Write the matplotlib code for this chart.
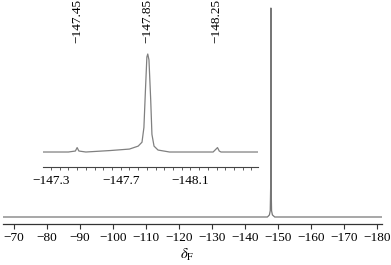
import matplotlib
matplotlib.use("Agg")
import matplotlib.pyplot as plt
from matplotlib.ticker import MultipleLocator, FixedLocator
import matplotlib.transforms as mtransforms

plt.rcParams['font.family'] = ['Liberation Serif', 'DejaVu Serif']
plt.rcParams['mathtext.fontset'] = 'stix'

# Full spectrum (chemical shift, relative intensity)
main_shift = [-66.5, -100.0, -130.0, -146.8, -147.4, -147.65, -147.78, -147.85,
              -147.92, -148.05, -148.3, -149.0, -160.0, -181.6]
main_int = [0.0, 0.0, 0.0, 0.0, 0.01, 0.03, 0.15, 1.0,
            0.15, 0.03, 0.01, 0.0, 0.0, 0.0]
main_ticks = [-70, -80, -90, -100, -110, -120, -130, -140, -150, -160, -170, -180]

# Expanded region
inset_shift = [-147.254, -147.40, -147.44, -147.45, -147.46, -147.50, -147.64,
               -147.75, -147.80, -147.822, -147.833, -147.842, -147.850, -147.855,
               -147.862, -147.872, -147.879, -147.891, -147.914, -147.98, -148.10,
               -148.23, -148.255, -148.265, -148.275, -148.30, -148.489]
inset_int = [0.0, 0.0, 0.01, 0.045, 0.01, 0.0, 0.015,
             0.03, 0.06, 0.10, 0.25, 0.64, 0.97, 1.0,
             0.94, 0.53, 0.18, 0.06, 0.02, 0.0, 0.0,
             0.0, 0.045, 0.01, 0.0, 0.0, 0.0]
inset_ticks = [-147.3, -147.7, -148.1]
peak_labels = ['\u2212147.45', '\u2212147.85', '\u2212148.25']
peak_pos = [-147.45, -147.85, -148.25]

W, H = 391, 265
fig = plt.figure(figsize=(W / 100, H / 100), dpi=100)

line_col = '#777777'
fs = 9.5

# main axes
ax = fig.add_axes([3 / W, (H - 224) / H, 379 / W, 219 / H])
ax.plot(main_shift, main_int, color=line_col, lw=0.9)
ax.set_xlim(-66.7, -181.5)
ax.set_ylim(-0.0335, 1.0144)
for s in ['top', 'right', 'left']:
    ax.spines[s].set_visible(False)
ax.spines['bottom'].set_color('#333333')
ax.spines['bottom'].set_linewidth(0.9)
ax.set_yticks([])
ax.xaxis.set_major_locator(FixedLocator(main_ticks))
ax.set_xticklabels([f'\u2212{abs(t)}' for t in main_ticks])
ax.tick_params(axis='x', direction='out', length=3.5, width=0.8, pad=2,
               labelsize=fs, colors='#333333', labelcolor='black')
ax.patch.set_alpha(0)
fig.text(187 / W, (H - 255) / H, r'$\delta_{\mathrm{F}}$', fontsize=fs + 1,
         ha='center', va='center')

# inset axes
axi = fig.add_axes([43.3 / W, (H - 167) / H, 215 / W, 117 / H])
axi.plot(inset_shift, inset_int, color='#808080', lw=0.9)
axi.set_xlim(-147.256, -148.489)
axi.set_ylim(-0.153, 1.041)
for s in ['top', 'right', 'left']:
    axi.spines[s].set_visible(False)
axi.spines['bottom'].set_color('#444444')
axi.spines['bottom'].set_linewidth(0.8)
axi.set_yticks([])
axi.xaxis.set_major_locator(FixedLocator(inset_ticks))
axi.set_xticklabels([f'\u2212{abs(t):.1f}' for t in inset_ticks])
axi.xaxis.set_minor_locator(MultipleLocator(0.05))
axi.tick_params(axis='x', which='both', direction='out', length=2.5, width=0.6,
                pad=3, labelsize=fs, colors='#444444', labelcolor='black')
axi.patch.set_alpha(0)

trans = mtransforms.blended_transform_factory(axi.transData, axi.transAxes)
for p, lab in zip(peak_pos, peak_labels):
    axi.text(p, 1.06, lab, rotation=90, ha='center', va='bottom',
             fontsize=fs, transform=trans)

fig.savefig('out.png', dpi=100)
